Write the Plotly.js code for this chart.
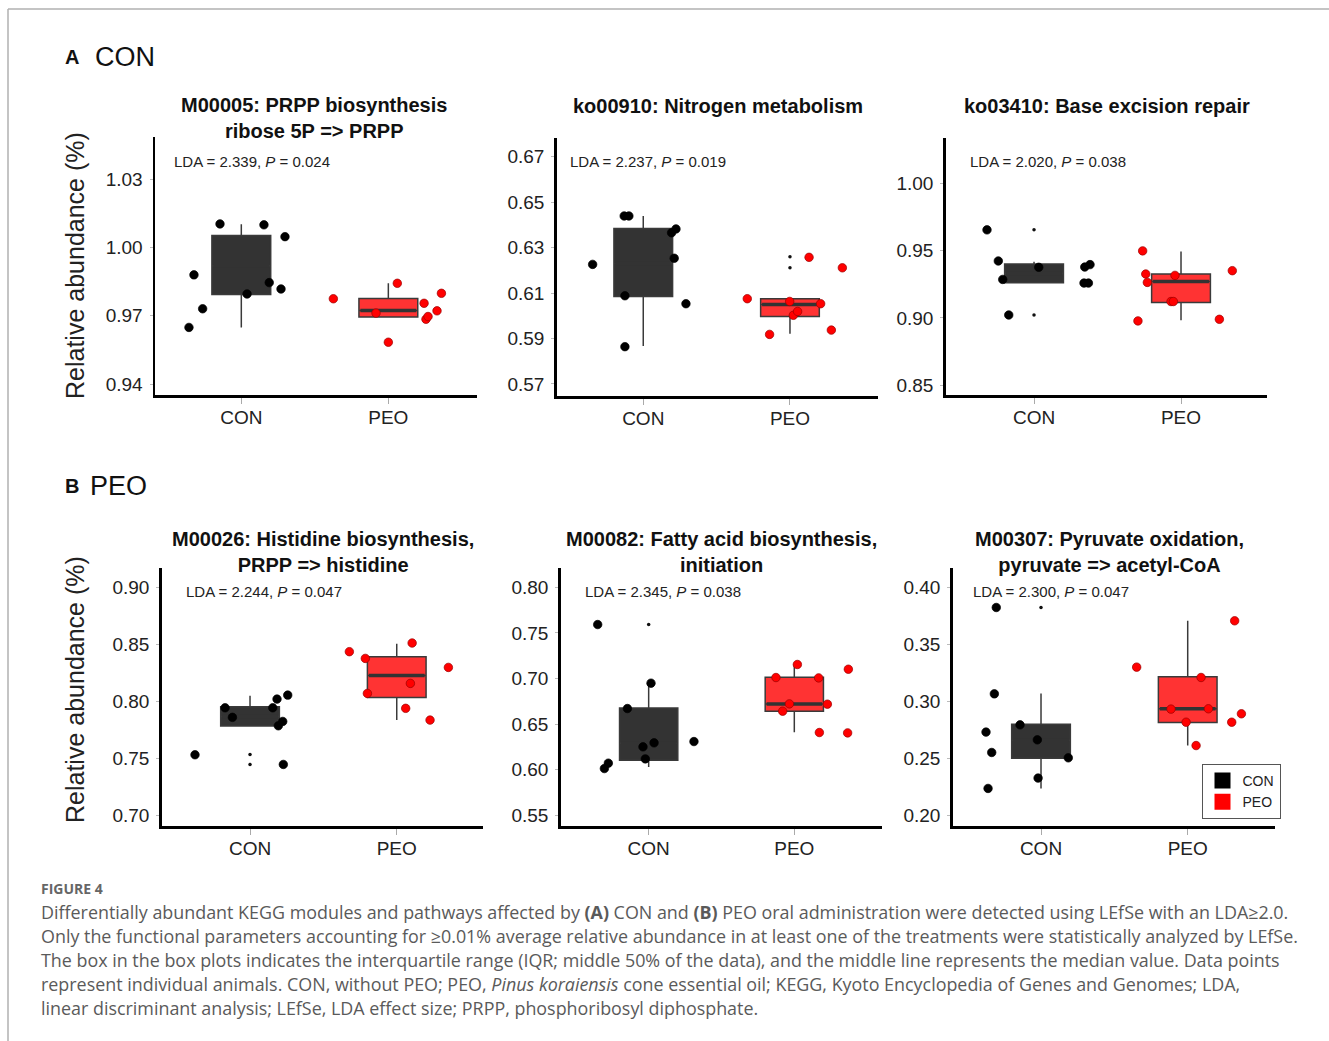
<!DOCTYPE html>
<html>
<head>
<meta charset="utf-8">
<script src="https://cdn.plot.ly/plotly-3.0.1.min.js"></script>
<style>html,body{margin:0;padding:0;background:#fff;}#chart{width:1329px;height:1041px;}</style>
</head>
<body>
<div id="chart"></div>
<script>
// ---------------- DATA ----------------
const categories = ['CON', 'PEO'];
const legendNames = ['CON', 'PEO'];
const sectionLabels = [['A', 'CON'], ['B', 'PEO']];
const panelTitles = [
  'M00005: PRPP biosynthesis<br>ribose 5P => PRPP',
  'ko00910: Nitrogen metabolism',
  'ko03410: Base excision repair',
  'M00026: Histidine biosynthesis,<br>PRPP => histidine',
  'M00082: Fatty acid biosynthesis,<br>initiation',
  'M00307: Pyruvate oxidation,<br>pyruvate => acetyl-CoA'
];
const ldaTexts = [
  'LDA = 2.339, <i>P</i> = 0.024',
  'LDA = 2.237, <i>P</i> = 0.019',
  'LDA = 2.020, <i>P</i> = 0.038',
  'LDA = 2.244, <i>P</i> = 0.047',
  'LDA = 2.345, <i>P</i> = 0.038',
  'LDA = 2.300, <i>P</i> = 0.047'
];
const yAxisTitle = 'Relative abundance (%)';

// y tick values per panel
const ticks1 = [0.94, 0.97, 1.00, 1.03];
const ticks2 = [0.57, 0.59, 0.61, 0.63, 0.65, 0.67];
const ticks3 = [0.85, 0.90, 0.95, 1.00];
const ticks4 = [0.70, 0.75, 0.80, 0.85, 0.90];
const ticks5 = [0.55, 0.60, 0.65, 0.70, 0.75, 0.80];
const ticks6 = [0.20, 0.25, 0.30, 0.35, 0.40];

// Box statistics: [lower whisker, Q1, median, Q3, upper whisker]
const con1Box = [0.9649, 0.9794, 0.9920, 1.0053, 1.0102];
const peo1Box = [0.9695, 0.9695, 0.9723, 0.9776, 0.9843];
const con2Box = [0.5867, 0.6085, 0.6230, 0.6384, 0.6439];
const peo2Box = [0.5921, 0.5997, 0.6050, 0.6075, 0.6075];
const con3Box = [0.9261, 0.9261, 0.9330, 0.9400, 0.9418];
const peo3Box = [0.8983, 0.9114, 0.9271, 0.9326, 0.9493];
const con4Box = [0.7787, 0.7787, 0.7870, 0.7956, 0.8053];
const peo4Box = [0.7839, 0.8038, 0.8231, 0.8395, 0.8509];
const con5Box = [0.6031, 0.6105, 0.6290, 0.6678, 0.6945];
const peo5Box = [0.6412, 0.6642, 0.6722, 0.7015, 0.7150];
const con6Box = [0.2236, 0.2502, 0.2660, 0.2801, 0.3070];
const peo6Box = [0.2613, 0.2816, 0.2936, 0.3217, 0.3709];

// Individual animals (values) and horizontal jitter (category units)
const con1 = [0.9649, 0.9880, 0.9731, 1.0104, 0.9796, 1.0100, 0.9846, 0.9818, 1.0048];
const con1Jit = [-0.356, -0.322, -0.263, -0.145, 0.039, 0.154, 0.190, 0.270, 0.297];
const peo1 = [0.9775, 0.9712, 0.9584, 0.9843, 0.9755, 0.9685, 0.9697, 0.9722, 0.9799];
const peo1Jit = [-0.374, -0.084, 0.0, 0.061, 0.243, 0.256, 0.270, 0.331, 0.361];

const con2 = [0.6226, 0.6439, 0.6439, 0.6088, 0.5864, 0.6365, 0.6382, 0.6253, 0.6053];
const con2Jit = [-0.345, -0.130, -0.098, -0.125, -0.125, 0.193, 0.223, 0.211, 0.291];
const peo2 = [0.6075, 0.5918, 0.6063, 0.6002, 0.6019, 0.6257, 0.6053, 0.5937, 0.6211];
const peo2Jit = [-0.291, -0.139, -0.002, 0.023, 0.052, 0.130, 0.209, 0.282, 0.357];

const con3 = [0.9654, 0.9423, 0.9286, 0.9022, 0.9376, 0.9378, 0.9396, 0.9259, 0.9259];
const con3Jit = [-0.320, -0.243, -0.213, -0.172, 0.032, 0.345, 0.381, 0.340, 0.370];
const peo3 = [0.9498, 0.9326, 0.9264, 0.8978, 0.9316, 0.9122, 0.9122, 0.8990, 0.9351];
const peo3Jit = [-0.261, -0.240, -0.229, -0.293, -0.041, -0.068, -0.052, 0.261, 0.349];

const con4 = [0.7535, 0.7947, 0.7863, 0.7947, 0.8023, 0.7827, 0.7789, 0.7450, 0.8058];
const con4Jit = [-0.375, -0.170, -0.120, 0.155, 0.184, 0.223, 0.193, 0.227, 0.257];
const peo4 = [0.8439, 0.8380, 0.8073, 0.7942, 0.8161, 0.8515, 0.7839, 0.8301];
const peo4Jit = [-0.323, -0.214, -0.200, 0.061, 0.093, 0.105, 0.227, 0.352];

const con5 = [0.7592, 0.6013, 0.6072, 0.6671, 0.6251, 0.6119, 0.6949, 0.6295, 0.6309];
const con5Jit = [-0.350, -0.304, -0.277, -0.146, -0.039, -0.023, 0.016, 0.037, 0.311];
const peo5 = [0.7011, 0.6642, 0.6722, 0.7154, 0.7007, 0.6719, 0.6408, 0.7102, 0.6404];
const peo5Jit = [-0.126, -0.080, -0.034, 0.021, 0.167, 0.227, 0.172, 0.371, 0.366];

const con6 = [0.3826, 0.3067, 0.2731, 0.2552, 0.2236, 0.2795, 0.2663, 0.2327, 0.2505];
const con6Jit = [-0.305, -0.318, -0.375, -0.336, -0.361, -0.143, -0.025, -0.020, 0.186];
const peo6 = [0.3302, 0.2933, 0.2818, 0.3211, 0.2936, 0.2613, 0.2818, 0.2892, 0.3709];
const peo6Jit = [-0.348, -0.114, -0.011, 0.091, 0.141, 0.057, 0.300, 0.366, 0.320];

// Box-plot outliers (small dots, drawn at category centre)
const con1Out = [];
const peo1Out = [];
const con2Out = [];
const peo2Out = [0.6260, 0.6211];
const con3Out = [0.9654, 0.9022];
const peo3Out = [];
const con4Out = [0.7538, 0.7450];
const peo4Out = [];
const con5Out = [0.7592];
const peo5Out = [];
const con6Out = [0.3826];
const peo6Out = [];

const captionHead = 'FIGURE 4';
const captionLines = [
  'Differentially abundant KEGG modules and pathways affected by <b>(A)</b> CON and <b>(B)</b> PEO oral administration were detected using LEfSe with an LDA≥2.0.',
  'Only the functional parameters accounting for ≥0.01% average relative abundance in at least one of the treatments were statistically analyzed by LEfSe.',
  'The box in the box plots indicates the interquartile range (IQR; middle 50% of the data), and the middle line represents the median value. Data points',
  'represent individual animals. CON, without PEO; PEO, <i>Pinus koraiensis</i> cone essential oil; KEGG, Kyoto Encyclopedia of Genes and Genomes; LDA,',
  'linear discriminant analysis; LEfSe, LDA effect size; PRPP, phosphoribosyl diphosphate.'
];

// ---------------- LAYOUT GEOMETRY ----------------
const W = 1329, H = 1041;
const fx = p => p / W;
const fy = p => 1 - p / H;

const panels = [
  {xpx: [155, 477], ypx: [137, 395], xr: [-0.587, 1.603], yr: [0.9352, 1.0486], ticks: ticks1,
   con: con1, conJ: con1Jit, peo: peo1, peoJ: peo1Jit, cb: con1Box, pb: peo1Box, co: con1Out, po: peo1Out,
   titleX: 313.5, titleY: 118, ldaX: 172, ldaY: 161},
  {xpx: [556.7, 878], ypx: [138, 396], xr: [-0.590, 1.600], yr: [0.5647, 0.6782], ticks: ticks2,
   con: con2, conJ: con2Jit, peo: peo2, peoJ: peo2Jit, cb: con2Box, pb: peo2Box, co: con2Out, po: peo2Out,
   titleX: 717.5, titleY: 106, ldaX: 568, ldaY: 161},
  {xpx: [945.7, 1266.7], ypx: [138, 395], xr: [-0.601, 1.583], yr: [0.8428, 1.0336], ticks: ticks3,
   con: con3, conJ: con3Jit, peo: peo3, peoJ: peo3Jit, cb: con3Box, pb: peo3Box, co: con3Out, po: peo3Out,
   titleX: 1106.5, titleY: 106, ldaX: 968, ldaY: 161},
  {xpx: [161.7, 483.3], ypx: [568, 826], xr: [-0.602, 1.590], yr: [0.6910, 0.9173], ticks: ticks4,
   con: con4, conJ: con4Jit, peo: peo4, peoJ: peo4Jit, cb: con4Box, pb: peo4Box, co: con4Out, po: peo4Out,
   titleX: 322.5, titleY: 552, ldaX: 184, ldaY: 591},
  {xpx: [560.7, 881.7], ypx: [568, 826], xr: [-0.604, 1.600], yr: [0.5383, 0.8212], ticks: ticks5,
   con: con5, conJ: con5Jit, peo: peo5, peoJ: peo5Jit, cb: con5Box, pb: peo5Box, co: con5Out, po: peo5Out,
   titleX: 721, titleY: 552, ldaX: 583, ldaY: 591},
  {xpx: [952.7, 1275], ypx: [568, 826], xr: [-0.602, 1.595], yr: [0.1906, 0.4173], ticks: ticks6,
   con: con6, conJ: con6Jit, peo: peo6, peoJ: peo6Jit, cb: con6Box, pb: peo6Box, co: con6Out, po: peo6Out,
   titleX: 1109.5, titleY: 552, ldaX: 971, ldaY: 591}
];

const FONT = 'Liberation Sans, Arial, sans-serif';
const BOXW = 0.4;
const conFill = '#333333', peoFill = '#ff3333';
const traces = [];
const layout = {
  width: W, height: H,
  margin: {l: 0, r: 0, t: 0, b: 0},
  paper_bgcolor: '#ffffff', plot_bgcolor: 'rgba(0,0,0,0)',
  font: {family: FONT, color: '#222'},
  showlegend: true,
  legend: {
    x: fx(1201.5), y: fy(764), xanchor: 'left', yanchor: 'top',
    bgcolor: '#ffffff', bordercolor: '#555', borderwidth: 1,
    font: {family: FONT, size: 14, color: '#222'},
    itemwidth: 30, tracegroupgap: 0
  },
  annotations: [], shapes: []
};

panels.forEach((p, i) => {
  const n = i + 1;
  const xa = 'x' + (n === 1 ? '' : n), ya = 'y' + (n === 1 ? '' : n);
  const xk = 'xaxis' + (n === 1 ? '' : n), yk = 'yaxis' + (n === 1 ? '' : n);
  layout[xk] = {
    domain: [fx(p.xpx[0]), fx(p.xpx[1])], range: p.xr, anchor: ya,
    tickmode: 'array', tickvals: [0, 1], ticktext: categories,
    showline: true, linecolor: '#000', linewidth: 2.5,
    ticks: 'outside', ticklen: 6, tickwidth: 1, tickcolor: '#aaa',
    ticklabelstandoff: -2,
    showgrid: false, zeroline: false, fixedrange: true,
    tickfont: {family: FONT, size: 19, color: '#222'}
  };
  layout[yk] = {
    domain: [fy(p.ypx[1]), fy(p.ypx[0])], range: p.yr, anchor: xa,
    tickmode: 'array', tickvals: p.ticks, tickformat: '.2f',
    showline: true, linecolor: '#000', linewidth: 2.5,
    ticks: 'outside', ticklen: 3, tickwidth: 1, tickcolor: '#bbb',
    ticklabelstandoff: 3,
    showgrid: false, zeroline: false, fixedrange: true,
    tickfont: {family: FONT, size: 19, color: '#222'}
  };

  const groups = [
    {pos: 0, box: p.cb, vals: p.con, jit: p.conJ, out: p.co, fill: conFill, pt: '#000000', ptLine: '#000000'},
    {pos: 1, box: p.pb, vals: p.peo, jit: p.peoJ, out: p.po, fill: peoFill, pt: '#ff0000', ptLine: '#9a0000'}
  ];
  groups.forEach(g => {
    traces.push({
      type: 'box', x: [g.pos],
      lowerfence: [g.box[0]], q1: [g.box[1]], median: [g.box[2]], q3: [g.box[3]], upperfence: [g.box[4]],
      width: BOXW, whiskerwidth: 0, boxpoints: false,
      fillcolor: g.fill, line: {color: '#3a3a3a', width: 1.5},
      xaxis: xa, yaxis: ya, showlegend: false, hoverinfo: 'skip'
    });
    // thicker median bar
    traces.push({
      type: 'scatter', mode: 'lines',
      x: [g.pos - BOXW / 2 + 0.01, g.pos + BOXW / 2 - 0.01], y: [g.box[2], g.box[2]],
      line: {color: '#333', width: 3.5},
      xaxis: xa, yaxis: ya, showlegend: false, hoverinfo: 'skip'
    });
    if (g.out.length) {
      traces.push({
        type: 'scatter', mode: 'markers',
        x: g.out.map(() => g.pos), y: g.out,
        marker: {size: 3.5, color: '#111'},
        xaxis: xa, yaxis: ya, showlegend: false, hoverinfo: 'skip'
      });
    }
    traces.push({
      type: 'scatter', mode: 'markers',
      x: g.vals.map((v, k) => g.pos + g.jit[k]), y: g.vals,
      marker: {size: 8.5, color: g.pt, line: {color: g.ptLine, width: 0.7}},
      xaxis: xa, yaxis: ya, showlegend: false
    });
  });

  layout.annotations.push({
    xref: 'paper', yref: 'paper', x: fx(p.titleX), y: fy(p.titleY),
    xanchor: 'center', yanchor: 'middle', showarrow: false, align: 'center',
    text: '<b>' + panelTitles[i] + '</b>',
    font: {family: FONT, size: 20, color: '#111'}
  });
  layout.annotations.push({
    xref: 'paper', yref: 'paper', x: fx(p.ldaX), y: fy(p.ldaY),
    xanchor: 'left', yanchor: 'middle', showarrow: false,
    text: ldaTexts[i], font: {family: FONT, size: 15, color: '#222'}
  });
});

// legend entries
legendNames.forEach((nm, k) => {
  traces.push({
    type: 'scatter', mode: 'markers', x: [null], y: [null], name: nm,
    marker: {symbol: 'square', size: 17, color: k === 0 ? '#000000' : '#ff0000'},
    xaxis: 'x6', yaxis: 'y6', showlegend: true, hoverinfo: 'skip'
  });
});

// y axis titles
[266, 690].forEach(cy => {
  layout.annotations.push({
    xref: 'paper', yref: 'paper', x: fx(75), y: fy(cy), textangle: -90,
    xanchor: 'center', yanchor: 'middle', showarrow: false,
    text: yAxisTitle, font: {family: FONT, size: 25, color: '#222'}
  });
});

// section labels
[[57, 72, 93], [486, 72, 88]].forEach((s, k) => {
  layout.annotations.push({
    xref: 'paper', yref: 'paper', x: fx(s[1]), y: fy(s[0]),
    xanchor: 'center', yanchor: 'middle', showarrow: false,
    text: '<b>' + sectionLabels[k][0] + '</b>', font: {family: FONT, size: 20, color: '#111'}
  });
  layout.annotations.push({
    xref: 'paper', yref: 'paper', x: fx(s[2]), y: fy(s[0]),
    xanchor: 'left', yanchor: 'middle', showarrow: false,
    text: sectionLabels[k][1], font: {family: FONT, size: 27, color: '#111'}
  });
});

// caption
layout.annotations.push({
  xref: 'paper', yref: 'paper', x: fx(39), y: fy(888),
  xanchor: 'left', yanchor: 'middle', showarrow: false,
  text: '<b>' + captionHead + '</b>', font: {family: 'Open Sans, sans-serif', size: 14, color: '#666'}
});
captionLines.forEach((t, k) => {
  layout.annotations.push({
    xref: 'paper', yref: 'paper', x: fx(39), y: fy(912 + 24 * k),
    xanchor: 'left', yanchor: 'middle', showarrow: false, align: 'left',
    text: t, font: {family: 'Open Sans, sans-serif', size: 17.9, color: '#5a5a5a'}
  });
});

// page frame
layout.shapes.push({type: 'line', xref: 'paper', yref: 'paper', x0: fx(8), x1: 1, y0: fy(9), y1: fy(9), line: {color: '#b0b0b0', width: 1.5}});
layout.shapes.push({type: 'line', xref: 'paper', yref: 'paper', x0: fx(8), x1: fx(8), y0: fy(9), y1: 0, line: {color: '#b0b0b0', width: 1.5}});

Plotly.newPlot('chart', traces, layout, {displayModeBar: false, staticPlot: true});
</script>
</body>
</html>
